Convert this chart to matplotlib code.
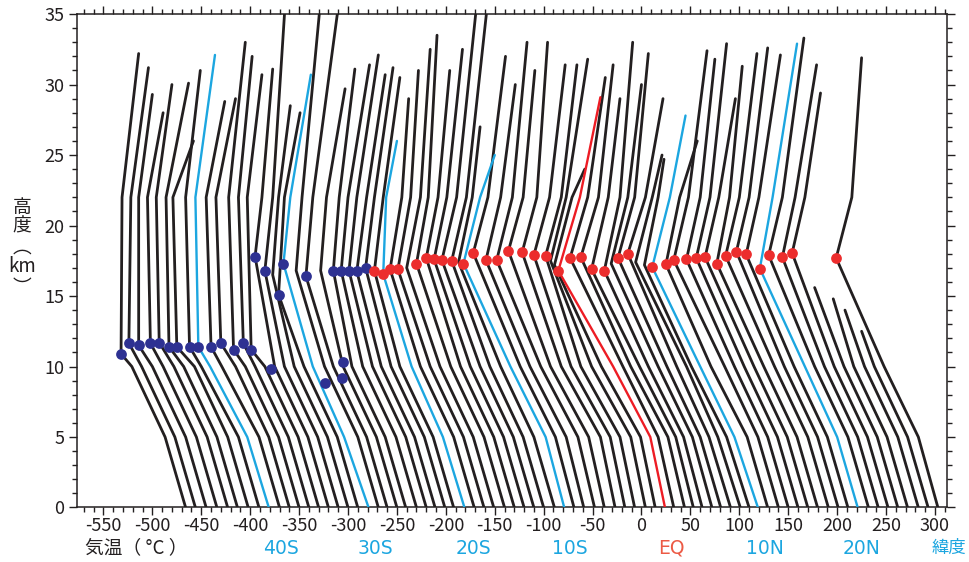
"""Meridional section of temperature profiles, each shifted 10 C per degree of latitude."""

import numpy as np
import matplotlib
matplotlib.use("Agg")
import matplotlib.pyplot as plt
from matplotlib.ticker import MultipleLocator
from matplotlib.transforms import blended_transform_factory

plt.rcParams["font.family"] = ["Liberation Sans Narrow", "Noto Sans CJK JP", "DejaVu Sans"]
plt.rcParams["axes.unicode_minus"] = False

# shifted temperature of each profile at fixed heights (south -> north)
x_sfc = [-466, -456, -445, -434, -423, -413, -402, -391, -381, -370,
         -360, -350, -340, -330, -320, -310, -300, -290, -279, -269,
         -260, -250, -241, -230, -220, -211, -201, -192, -181, -171,
         -161, -151, -140, -130, -120, -110, -100, -89, -79, -69,
         -59, -48, -38, -27, -17, -7, 4, 14, 24, 33,
         44, 53, 62, 72, 81, 91, 101, 110, 119, 129,
         140, 150, 160, 170, 180, 191, 201, 211, 221, 232,
         242, 252, 262, 272, 283, 293, 303]
x_5km = [-487, -477, -466, -455, -444, -434, -423, -412, -403, -391,
         -381, -371, -361, -351, -341, -331, -321, -311, -304, -290,
         -281, -271, -262, -251, -241, -232, -222, -213, -203, -192,
         -182, -172, -161, -151, -141, -131, -121, -110, -98, -88,
         -77, -65, -54, -42, -32, -22, -11, -1, 9, 17,
         27, 35, 43, 52, 60, 69, 78, 87, 95, 108,
         119, 129, 139, 149, 159, 170, 180, 190, 200, 211,
         221, 231, 241, 251, 262, 272, 283]
x_10km = [-521, -511, -500, -489, -478, -468, -457, -450, -441, -429,
          -415, -405, -395, -385, -375, -365, -355, -345, -336, -324,
          -315, -305, -296, -285, -275, -266, -256, -247, -235, -226,
          -216, -206, -195, -185, -175, -165, -155, -144, -134, -124,
          -114, -103, -93, -82, -72, -62, -51, -41, -29, -19,
          -11, -2, 7, 17, 26, 36, 46, 51, 60, 71,
          85, 95, 105, 115, 125, 136, 146, 156, 167, 177,
          187, 197, 207, 217, 228, 238, 248]
trop_z = [10.9, 11.65, 11.5, 11.65, 11.7, 11.4, 11.4, 11.4, 11.4, 11.4,
          11.65, 11.2, 11.65, 11.2, 17.8, 16.8, 16.5, 15.1, 17.3, 16.8,
          16.4, 16.8, 16.8, 16.8, 16.8, 16.75, 17.0, 16.8, 16.55, 16.9,
          16.9, 17.0, 17.3, 17.7, 17.6, 17.55, 17.5, 17.4, 17.3, 18.05,
          17.55, 17.55, 18.2, 18.1, 17.9, 17.85, 17.5, 17.2, 16.8, 17.7,
          17.75, 16.9, 16.8, 17.3, 17.7, 18.0, 17.4, 17.2, 17.05, 17.25,
          17.55, 17.6, 17.7, 17.75, 17.3, 17.85, 18.15, 17.95, 16.95, 17.9,
          17.75, 18.05, np.nan, np.nan, np.nan, np.nan, 17.7]
trop_x = [-532, -524, -514, -502, -493, -483, -475, -462, -453, -440,
          -430, -417, -407, -399, -395, -385, -377, -371, -366, -353,
          -343, -328, -315, -307, -299, -291, -282, -273, -264, -257,
          -249, -240, -230, -220, -212, -204, -194, -187, -182, -172,
          -159, -148, -136, -122, -110, -98, -93, -89, -85, -73,
          -62, -51, -38, -31, -24, -14, -6, 3, 11, 25,
          33, 46, 56, 65, 77, 86, 97, 107, 121, 130,
          144, 154, np.nan, np.nan, np.nan, np.nan, 199]
x_22km = [-531, -522, -514, -505, -496, -486, -479, -466, -456, -445,
          -435, -422, -412, -403, -388, -377, -371, -365, -359, -347,
          -336, -322, -309, -300, -291, -281, -273, -264, -261, -245,
          -236, -226, -218, -208, -199, -189, -179, -173, -165, -157,
          -144, -132, -121, -107, -94, -82, -77, -71, -63, -55,
          -44, -34, -22, -14, -7, 4, 11, 17, 29, 39,
          48, 60, 70, 79, 90, 100, 110, 120, 134, 144,
          157, 167, np.nan, np.nan, np.nan, np.nan, 215]
top_z = [32.2, 31.2, 29.3, 28.0, 30.0, 30.1, 26.0, 31.0, 32.1, 28.8,
         29.0, 33.0, 32.0, 30.7, 31.1, 36.0, 28.5, 28.0, 30.7, 36.0,
         36.0, 29.7, 31.1, 31.4, 32.1, 30.7, 31.2, 30.5, 26.0, 29.0,
         31.0, 32.5, 33.5, 31.0, 32.5, 36.0, 36.0, 27.0, 25.0, 32.0,
         30.0, 33.0, 31.0, 33.0, 31.4, 31.4, 31.8, 24.0, 29.1, 30.5,
         31.4, 29.0, 33.0, 30.0, 32.2, 29.0, 25.0, 24.7, 27.8, 26.0,
         32.4, 31.8, 32.9, 29.0, 31.3, 32.2, 32.6, 32.1, 32.9, 33.3,
         31.4, 29.4, 15.6, 14.8, 14.0, 12.5, 31.9]
top_x = [-514, -504, -500, -489, -480, -463, -458, -451, -436, -426,
         -415, -405, -398, -388, -377, -364, -359, -349, -338, -328,
         -309, -303, -293, -278, -269, -262, -254, -247, -250, -238,
         -228, -216, -209, -196, -183, -168, -157, -165, -150, -139,
         -129, -117, -109, -96, -78, -66, -55, -58, -42, -37,
         -29, -22, -9, 0, 7, 22, 21, 23, 45, 57,
         67, 75, 87, 96, 103, 118, 129, 142, 159, 166,
         179, 183, 177, 196, 208, 225, 225]

blue_profiles = [8, 18, 28, 38, 58, 68]   # 40S, 30S, 20S, 10S, 10N, 20N
red_profiles = [48]                       # EQ

# tropopause markers
navy_x = [-532, -524, -514, -502, -493, -483, -475, -462, -453, -440,
          -430, -417, -407, -399, -379, -324, -305, -306,
          -395, -385, -371, -366, -343, -315, -307, -299, -291, -282]
navy_z = [10.9, 11.65, 11.5, 11.65, 11.7, 11.4, 11.4, 11.4, 11.4, 11.4,
          11.65, 11.2, 11.65, 11.2, 9.8, 8.85, 10.35, 9.2,
          17.8, 16.8, 15.1, 17.3, 16.4, 16.8, 16.8, 16.8, 16.75, 17.0]
red_x = [-273, -264, -257, -249, -230, -220, -212, -204, -194, -182,
         -172, -159, -148, -136, -122, -110, -98, -85, -73, -62,
         -51, -38, -24, -14, 11, 25, 33, 46, 56, 65,
         77, 86, 97, 107, 121, 130, 144, 154, 199]
red_z = [16.8, 16.55, 16.9, 16.9, 17.3, 17.7, 17.6, 17.55, 17.5, 17.3,
         18.05, 17.55, 17.55, 18.2, 18.1, 17.9, 17.85, 16.8, 17.7, 17.75,
         16.9, 16.8, 17.7, 18.0, 17.05, 17.25, 17.55, 17.6, 17.7, 17.75,
         17.3, 17.85, 18.15, 17.95, 16.95, 17.9, 17.75, 18.05, 17.7]

lat_labels = ["40S", "30S", "20S", "10S", "EQ", "10N", "20N", "緯度"]
lat_label_x = [-369, -272, -172, -73, 31, 126, 225, 314]

INK = "#231f20"
BLUE = "#1ca6e0"
RED = "#ed1c24"
EQ_TEXT = "#ec5a45"
CJK = ["Noto Sans CJK JP", "DejaVu Sans"]


def profile_points(i):
    zt = top_z[i]
    has_trop = not np.isnan(trop_z[i])
    lim = trop_z[i] if has_trop else zt
    pts = [(x_sfc[i], 0.0), (x_5km[i], 5.0), (x_10km[i], 10.0)]
    pts = [p for p in pts if p[1] < lim]
    if has_trop:
        pts.append((trop_x[i], trop_z[i]))
        if trop_z[i] < 22 < zt:
            pts.append((x_22km[i], 22.0))
    pts.append((top_x[i], zt))
    xs, zs = zip(*pts)
    return xs, zs


fig = plt.figure(figsize=(9.69, 5.62), dpi=100)
ax = fig.add_axes([0.0795, 0.097, 0.8975, 0.878])

for i in range(len(x_sfc)):
    if i in blue_profiles or i in red_profiles:
        continue
    xs, zs = profile_points(i)
    ax.plot(xs, zs, color=INK, lw=2.0, solid_capstyle="round", solid_joinstyle="round", zorder=2)

for i in blue_profiles:
    xs, zs = profile_points(i)
    ax.plot(xs, zs, color=BLUE, lw=1.7, solid_capstyle="round", solid_joinstyle="round", zorder=3)
for i in red_profiles:
    xs, zs = profile_points(i)
    ax.plot(xs, zs, color=RED, lw=1.7, solid_capstyle="round", solid_joinstyle="round", zorder=3)

ax.scatter(navy_x, navy_z, s=60, color="#2e3192", linewidths=0, zorder=4)
ax.scatter(red_x, red_z, s=60, color="#ec2d2d", linewidths=0, zorder=4)

ax.set_xlim(-577, 312)
ax.set_ylim(0, 35)
ax.xaxis.set_major_locator(MultipleLocator(50))
ax.xaxis.set_minor_locator(MultipleLocator(10))
ax.yaxis.set_major_locator(MultipleLocator(5))
ax.yaxis.set_minor_locator(MultipleLocator(1))
ax.tick_params(which="both", direction="out", top=True, right=True, color=INK,
               labelcolor=INK, labelsize=13, width=1.0)
ax.tick_params(which="major", length=6)
ax.tick_params(which="minor", length=3.3)
ax.tick_params(axis="x", pad=0.5)
ax.tick_params(axis="y", pad=3)
for sp in ax.spines.values():
    sp.set_color(INK)
    sp.set_linewidth(1.1)

# stacked vertical y label
for txt, ypx in zip(["高", "度", "︵", "km", "︶"], [207, 226, 247, 267, 287]):
    fig.text(21.7 / 969, 1 - ypx / 562, txt, ha="center", va="center", fontsize=13.5,
             color=INK, family=CJK)

fig.text(85 / 969, 1 - 548 / 562, "気温（ °C ）", ha="left", va="center", fontsize=13.5,
         color=INK, family=CJK)

trans = blended_transform_factory(ax.transData, fig.transFigure)
for lab, xv in zip(lat_labels, lat_label_x):
    col = EQ_TEXT if lab == "EQ" else BLUE
    if lab == "緯度":
        ax.text(xv, 1 - 548 / 562, lab, transform=trans, ha="center", va="center",
                fontsize=12.5, color=col, family=CJK, clip_on=False)
    else:
        ax.text(xv, 1 - 548 / 562, lab, transform=trans, ha="center", va="center",
                fontsize=13.5, color=col, family=["Liberation Sans Narrow", "DejaVu Sans"],
                clip_on=False)

fig.savefig("out.png", dpi=100)
